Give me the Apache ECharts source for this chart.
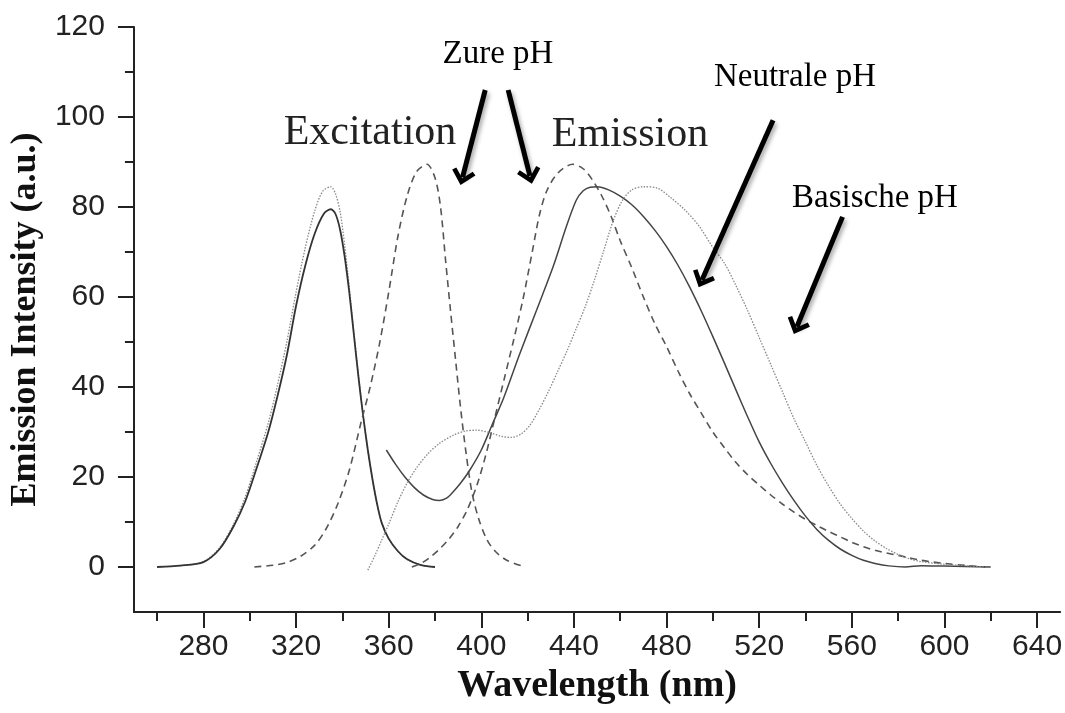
<!DOCTYPE html>
<html>
<head>
<meta charset="utf-8">
<script src="https://cdn.jsdelivr.net/npm/echarts@6/dist/echarts.min.js"></script>
<style>
  html, body { margin: 0; padding: 0; background: #fff; }
  #chart { width: 1065px; height: 713px; }
</style>
</head>
<body>
<div id="chart"></div>
<script>
// axis ticks
const xTickLabels = [280, 320, 360, 400, 440, 480, 520, 560, 600, 640];
const xMinorTicks = [260, 300, 340, 380, 420, 460, 500, 540, 580, 620];
const yTickLabels = [0, 20, 40, 60, 80, 100, 120];
const yMinorTicks = [10, 30, 50, 70, 90, 110];

// excitation spectra [nm, intensity]
const exNeutral = [
  [260, 0], [270, 0.3], [280, 1.1], [287, 4], [293, 9], [298, 14.5], [303, 22],
  [308, 30], [312, 38], [316, 47], [320, 58], [324, 67], [328, 74], [332, 78.5],
  [335, 79.5], [337, 78.5], [339, 75], [341, 69], [343, 61], [345, 51.5], [347, 42],
  [349, 33.5], [351, 26], [353, 19.5], [355, 14], [357, 9.8], [360, 6.3], [364, 3.5],
  [368, 1.7], [374, 0.4], [380, 0]
];
const exBasic = [
  [260, 0], [270, 0.3], [280, 1.2], [287, 4.3], [293, 9.5], [298, 15.5], [303, 23.5],
  [308, 32], [312, 40.5], [316, 50], [320, 61], [324, 71], [328, 79], [331.5, 83.5],
  [335, 84.5], [337, 83], [339, 79], [341, 71.5], [343, 62], [345, 52], [347, 42.5],
  [349, 33.5], [351, 26], [353, 19.5], [355, 14], [357, 9.8], [360, 6.3], [364, 3.5],
  [368, 1.7], [374, 0.4], [380, 0]
];
const exAcid = [
  [302, 0], [310, 0.4], [316, 1], [322, 2.4], [328, 4.8], [333, 8.5], [338, 14],
  [343, 21.5], [348, 32], [352, 40], [356, 49.5], [360, 61], [364, 73.5], [368, 82.5],
  [372, 87.8], [376.5, 89.5], [380, 86.5], [382.4, 80], [384.6, 68], [386.7, 57],
  [388.9, 46], [391, 35.6], [393.5, 25], [396, 16.5], [399, 10.5], [402.5, 6],
  [406, 3.5], [411, 1.5], [419, 0]
];

// emission spectra [nm, intensity]
const emAcid = [
  [370, 0], [374, 0.8], [378, 2.2], [382, 4], [386, 6.2], [390, 9], [394, 12.8],
  [398, 18], [402, 25], [406, 33.5], [410, 42], [414, 50.5], [418, 59.5], [422, 70],
  [425, 78], [428.2, 83.5], [433, 87.5], [439.5, 89.5], [444, 88.5], [448, 86],
  [452, 82.5], [456, 78], [460, 72.5], [465, 66.5], [470, 60], [475, 54], [480, 49],
  [485, 43.5], [490, 38.5], [495, 34.2], [500, 30], [505, 26.5], [510, 23.2],
  [515, 20.5], [520, 18.2], [525, 16], [530, 14], [535, 12.2], [540, 10.6], [545, 9.2],
  [550, 7.9], [555, 6.7], [560, 5.5], [565, 4.5], [570, 3.7], [575, 3.1], [580, 2.6],
  [585, 2], [590, 1.5], [595, 1.1], [600, 0.8], [610, 0.3], [618, 0]
];
const emNeutral = [
  [359, 26], [363, 22.8], [367, 20], [371, 17.7], [375, 16], [379, 15], [382, 14.8],
  [385, 15.3], [388, 16.8], [391, 18.6], [395, 21.5], [400, 26], [405, 32],
  [409.6, 37.5], [416.7, 47.5], [423.9, 57.1], [431, 66.7], [436.7, 75.6], [441, 81.5],
  [444, 83.6], [447, 84.4], [450, 84.5], [455, 83.8], [460, 82.4], [465, 80.5],
  [470, 77.9], [475, 74.8], [480, 71.2], [485, 67], [490, 62.2], [495, 56.9],
  [500, 51.2], [505, 45.3], [510, 39.3], [515, 33.4], [520, 27.8], [525, 23],
  [530, 18.7], [535, 14.8], [540, 11.3], [545, 8.3], [550, 5.9], [555, 4], [560, 2.6],
  [565, 1.5], [570, 0.8], [576, 0.25], [583, 0], [590, 0.3], [600, 0.2], [620, 0]
];
const emBasic = [
  [351, -0.7], [354, 2.5], [357, 6], [360, 9.5], [364, 14.5], [368, 18.7], [372, 22],
  [377, 25.2], [382, 27.5], [388, 29.3], [393, 30.2], [398, 30.4], [404, 29.8],
  [409, 29], [413, 28.8], [417, 29.5], [421, 31.5], [425, 35], [429, 39], [433, 43.5],
  [437, 48], [441, 53], [445, 58], [449, 64], [453, 70.5], [457, 77], [461, 81.5],
  [465, 83.8], [470, 84.5], [476, 84.2], [482, 82], [488, 79.3], [494, 75.8],
  [500, 71], [505, 67.5], [510, 62.5], [515, 57], [520, 51], [525, 45], [530, 39],
  [535, 33], [540, 27.8], [545, 22.5], [550, 18], [555, 14], [560, 10.8], [565, 8],
  [570, 5.8], [575, 4.1], [580, 2.8], [585, 1.8], [590, 1.2], [600, 0.6], [618, 0]
];

// annotation arrows: [tail, head] in data coords
const arrows = [
  [[401.7, 106.0], [391.9, 86.6]],
  [[411.6, 106.0], [421.0, 86.9]],
  [[526.0, 99.3], [495.3, 63.8]],
  [[556.0, 77.8], [536.3, 53.4]]
];

const chartDom = document.getElementById("chart");
const myChart = echarts.init(chartDom, null, { renderer: "canvas" });

const AXIS_COLOR = "#222";
const chevron = "path://M12,0 L24,13 L20.5,16 L12,7 L3.5,16 L0,13 Z";

function lineSeries(data, color, width, type) {
  return {
    type: "line",
    data: data,
    showSymbol: false,
    smooth: 0.3,
    silent: true,
    lineStyle: { color: color, width: width, type: type },
    z: 3,
  };
}

const baseX = {
  type: "value",
  min: 250,
  max: 650,
  position: "bottom",
  offset: 0,
  splitLine: { show: false },
};
const baseY = {
  type: "value",
  min: -10,
  max: 120,
  position: "left",
  offset: 0,
  splitLine: { show: false },
};

const option = {
  animation: false,
  backgroundColor: "#fff",
  grid: { left: 131, right: 2, top: 27, bottom: 101, containLabel: false },
  xAxis: [
    Object.assign({}, baseX, {
      name: "Wavelength (nm)",
      nameLocation: "middle",
      nameGap: 50,
      nameTextStyle: {
        fontFamily: "Liberation Serif",
        fontWeight: "bold",
        fontSize: 38,
        color: "#111",
      },
      axisLine: { onZero: false, lineStyle: { color: AXIS_COLOR, width: 2 } },
      axisTick: {
        customValues: xTickLabels,
        length: 16,
        lineStyle: { color: AXIS_COLOR, width: 2 },
      },
      axisLabel: {
        customValues: xTickLabels,
        margin: 20,
        fontFamily: "Liberation Sans",
        fontSize: 30,
        color: "#222",
      },
    }),
    Object.assign({}, baseX, {
      axisLine: { show: false, onZero: false },
      axisTick: {
        customValues: xMinorTicks,
        length: 9,
        lineStyle: { color: AXIS_COLOR, width: 2 },
      },
      axisLabel: { show: false },
    }),
  ],
  yAxis: [
    Object.assign({}, baseY, {
      name: "Emission Intensity (a.u.)",
      nameLocation: "middle",
      nameGap: 88,
      nameTextStyle: {
        fontFamily: "Liberation Serif",
        fontWeight: "bold",
        fontSize: 36,
        color: "#111",
      },
      axisLine: { onZero: false, lineStyle: { color: AXIS_COLOR, width: 2 } },
      axisTick: {
        customValues: yTickLabels,
        length: 16,
        lineStyle: { color: AXIS_COLOR, width: 2 },
      },
      axisLabel: {
        customValues: yTickLabels,
        margin: 29,
        fontFamily: "Liberation Sans",
        fontSize: 30,
        color: "#222",
      },
    }),
    Object.assign({}, baseY, {
      axisLine: { show: false, onZero: false },
      axisTick: {
        customValues: yMinorTicks,
        length: 9,
        lineStyle: { color: AXIS_COLOR, width: 2 },
      },
      axisLabel: { show: false },
    }),
  ],
  series: [
    lineSeries(exBasic, "#888", 1.3, [1.5, 1.5]),
    lineSeries(exNeutral, "#333", 1.8, "solid"),
    lineSeries(exAcid, "#555", 1.6, [7, 5]),
    lineSeries(emAcid, "#555", 1.6, [7, 5]),
    lineSeries(emNeutral, "#444", 1.5, "solid"),
    Object.assign(lineSeries(emBasic, "#888", 1.3, [1.5, 1.5]), {
      markLine: {
        silent: true,
        animation: false,
        symbol: ["none", chevron],
        symbolSize: [24, 16],
        label: { show: false },
        emphasis: { disabled: true },
        lineStyle: {
          color: "#000",
          width: 5,
          type: "solid",
          shadowBlur: 4,
          shadowColor: "rgba(0,0,0,0.35)",
          shadowOffsetX: 2,
          shadowOffsetY: 3,
        },
        data: arrows.map((a) => [{ coord: a[0] }, { coord: a[1] }]),
      },
    }),
  ],
  graphic: [
    { type: "text", x: 370, y: 133, style: { text: "Excitation", font: "42px 'Liberation Serif'", fill: "#222", align: "center", verticalAlign: "middle" } },
    { type: "text", x: 630, y: 135, style: { text: "Emission", font: "42px 'Liberation Serif'", fill: "#222", align: "center", verticalAlign: "middle" } },
    { type: "text", x: 498, y: 54, style: { text: "Zure pH", font: "33px 'Liberation Serif'", fill: "#000", align: "center", verticalAlign: "middle" } },
    { type: "text", x: 795, y: 77, style: { text: "Neutrale pH", font: "33px 'Liberation Serif'", fill: "#000", align: "center", verticalAlign: "middle" } },
    { type: "text", x: 875, y: 198, style: { text: "Basische pH", font: "33px 'Liberation Serif'", fill: "#000", align: "center", verticalAlign: "middle" } },
  ],
};

myChart.setOption(option);
</script>
</body>
</html>
